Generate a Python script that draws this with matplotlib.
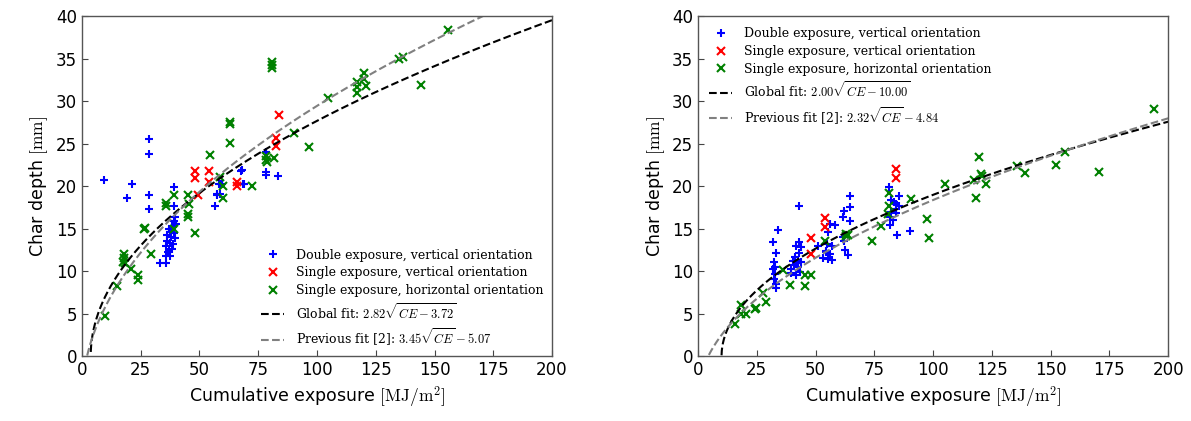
import numpy as np
import matplotlib
matplotlib.use("Agg")
import matplotlib.pyplot as plt

plt.rcParams['font.family'] = ['DejaVu Sans']
plt.rcParams['mathtext.fontset'] = 'cm'

# ---------------- Left panel data ----------------
L_dbl_vert_ce = [9.5, 28.7, 28.7, 21.4, 19.1, 28.7, 28.7, 39.3, 39.3,
                 39.7, 39.0, 40.0, 38.5, 36.9, 37.5, 39.3, 36.2, 38.0, 39.5, 36.0,
                 37.6, 38.8, 35.9, 37.0, 38.3, 35.9, 37.6, 36.5, 33.3, 35.9, 38.0,
                 56.7, 57.4, 58.6, 59.4, 58.4, 57.3, 58.7, 68.0, 68.6, 68.8,
                 78.4, 78.4, 78.4, 83.3, 67.5]
L_dbl_vert_d = [20.7, 25.5, 23.8, 20.2, 18.6, 19.0, 17.3, 19.9, 17.6,
                16.4, 15.9, 15.6, 15.3, 15.0, 14.6, 14.5, 14.3, 14.0, 13.9, 13.6,
                13.3, 13.2, 12.9, 12.5, 12.6, 11.8, 11.8, 12.2, 10.9, 10.9, 14.9,
                17.7, 18.9, 20.3, 20.3, 20.2, 19.1, 19.1, 21.9, 20.3, 20.3,
                24.0, 21.6, 21.3, 21.2, 21.8]

L_sgl_vert_ce = [47.9, 47.9, 53.9, 53.9, 49.2, 66.0, 66.0, 84.0, 82.4, 82.4]
L_sgl_vert_d = [21.8, 20.9, 21.8, 20.5, 19.0, 20.5, 20.0, 28.4, 25.6, 24.7]

L_sgl_hor_ce = [9.9, 14.8, 17.9, 17.9, 17.4, 18.4, 21.0, 23.8, 23.8,
                26.9, 26.5, 29.5, 35.9, 35.9, 39.0, 39.0, 45.0, 45.4, 45.0, 45.0,
                47.9, 54.3, 62.8, 62.8, 62.8, 58.7, 60.0, 60.0, 72.5,
                78.3, 78.3, 78.7, 81.7, 81.0, 81.0, 81.0, 90.4, 96.5,
                104.8, 116.9, 116.9, 116.9, 120.0, 120.0, 120.9,
                134.9, 136.5, 144.3, 155.9]
L_sgl_hor_d = [4.7, 8.3, 12.0, 11.5, 11.1, 10.9, 10.2, 9.6, 9.0,
               15.1, 14.9, 12.0, 18.0, 17.6, 18.9, 15.0, 18.9, 17.9, 16.7, 16.4,
               14.5, 23.6, 27.5, 27.3, 25.1, 21.1, 20.0, 18.6, 20.0,
               23.5, 23.1, 22.8, 23.3, 34.6, 34.2, 33.9, 26.3, 24.6,
               30.4, 32.2, 31.6, 30.9, 33.3, 32.6, 31.8,
               34.9, 35.2, 31.9, 38.4]

# ---------------- Right panel data ----------------
R_dbl_vert_ce = [42.8, 34.0, 32.1, 33.3, 32.3, 32.6, 31.7, 32.6, 32.3, 33.3, 33.3,
                 42.8, 41.8, 43.7, 42.8, 41.1, 42.5, 43.7, 40.8, 42.5, 39.7, 43.2,
                 41.8, 39.7, 42.0, 40.5,
                 51.0, 56.0, 58.1, 55.3, 57.0, 54.6, 56.0, 53.2, 55.3, 57.0, 54.6, 55.0,
                 62.1, 61.7, 64.5, 64.5, 64.5, 62.0, 62.4, 63.8, 61.6,
                 81.1, 82.3, 83.3, 84.4, 85.4, 85.4, 84.1, 82.3, 81.6, 83.0, 81.6, 84.4,
                 84.7, 90.1]
R_dbl_vert_d = [17.6, 14.8, 13.4, 12.1, 11.1, 10.5, 10.2, 9.7, 9.1, 8.5, 8.0,
                13.4, 12.9, 12.8, 12.1, 11.7, 11.3, 11.1, 10.7, 10.5, 10.3, 9.9,
                9.5, 9.8, 11.0, 11.2,
                12.9, 15.6, 15.4, 14.6, 13.0, 12.4, 12.0, 11.6, 11.4, 11.3, 12.2, 13.2,
                17.1, 16.4, 17.5, 18.8, 15.9, 13.6, 12.5, 11.9, 14.0,
                19.9, 18.4, 18.1, 17.9, 18.8, 17.7, 17.3, 16.9, 16.4, 16.0, 15.4, 16.8,
                14.3, 14.7]

R_sgl_vert_ce = [84.1, 84.1, 54.2, 54.2, 48.2, 48.2]
R_sgl_vert_d = [22.0, 20.9, 16.2, 15.2, 13.9, 12.0]

R_sgl_hor_ce = [15.9, 18.2, 18.4, 20.6, 24.1, 24.6, 27.7, 28.8, 36.2, 39.3,
                45.4, 45.4, 48.2, 54.2, 63.1, 63.1, 63.8, 74.0, 78.0, 81.3, 81.3,
                80.9, 90.8, 97.2, 98.3, 105.2, 118.2, 119.6, 117.4, 120.3, 120.9,
                122.4, 135.5, 139.0, 152.5, 156.3, 170.5, 193.9]
R_sgl_hor_d = [3.8, 6.0, 5.0, 4.9, 5.5, 5.7, 7.4, 6.4, 10.1, 8.4,
               9.5, 8.2, 9.6, 13.6, 14.1, 14.4, 14.2, 13.5, 15.3, 19.2, 17.7,
               16.7, 18.5, 16.1, 13.9, 20.2, 18.6, 23.4, 20.7, 21.4, 21.2,
               20.2, 22.4, 21.5, 22.5, 24.0, 21.7, 29.1]

# fit parameters (as printed in legends)
L_global = (2.82, 3.72)
L_prev = (3.45, 5.07)
R_global = (2.00, 10.00)
R_prev = (2.32, 4.84)

x_ticks = [0, 25, 50, 75, 100, 125, 150, 175, 200]
y_ticks = [0, 5, 10, 15, 20, 25, 30, 35, 40]

fig = plt.figure(figsize=(11.91, 4.21), dpi=100)
axL = fig.add_axes([0.0688, 0.154, 0.3947, 0.808])
axR = fig.add_axes([0.5861, 0.154, 0.3947, 0.808])

serif = 'DejaVu Serif'


def panel(ax, dce, dd, vce, vd, hce, hd, gfit, pfit, legloc, pad):
    ms = 6
    ax.plot(dce, dd, linestyle='none', marker='+', color='blue', ms=ms, mew=1.5,
            label='Double exposure, vertical orientation')
    ax.plot(vce, vd, linestyle='none', marker='x', color='red', ms=ms, mew=1.5,
            label='Single exposure, vertical orientation')
    ax.plot(hce, hd, linestyle='none', marker='x', color='green', ms=ms, mew=1.5,
            label='Single exposure, horizontal orientation')
    xs = np.linspace(0, 200, 4000)
    a, b = gfit
    m = xs >= b
    yg = a * np.sqrt(xs[m] - b)
    ax.plot(xs[m], yg, '--', color='black', lw=1.5,
            label=r'Global fit: $%.2f\sqrt{CE - %.2f}$' % (a, b))
    a2, c2 = pfit
    yp = a2 * np.sqrt(xs) - c2
    ax.plot(xs, yp, '--', color='gray', lw=1.5,
            label=r'Previous fit [2]: $%.2f\sqrt{CE} - %.2f$' % (a2, c2))
    ax.set_xlim(0, 200)
    ax.set_ylim(0, 40)
    ax.set_xticks(x_ticks)
    ax.set_yticks(y_ticks)
    ax.tick_params(direction='in', labelsize=12, length=4, color='#444444')
    for s in ax.spines.values():
        s.set_color('#555555')
        s.set_linewidth(1.0)
    ax.set_xlabel(r'Cumulative exposure $[\mathrm{MJ/m^2}]$', fontsize=12.5)
    ax.set_ylabel(r'Char depth $[\mathrm{mm}]$', fontsize=12.5)
    leg = ax.legend(loc=legloc, frameon=False, prop={'family': serif, 'size': 9},
                    handlelength=1.8, labelspacing=0.38, handletextpad=1.0,
                    borderaxespad=pad)
    return leg


panel(axL, L_dbl_vert_ce, L_dbl_vert_d, L_sgl_vert_ce, L_sgl_vert_d,
      L_sgl_hor_ce, L_sgl_hor_d, L_global, L_prev, 'lower right', 0.25)
panel(axR, R_dbl_vert_ce, R_dbl_vert_d, R_sgl_vert_ce, R_sgl_vert_d,
      R_sgl_hor_ce, R_sgl_hor_d, R_global, R_prev, 'upper left', 0.5)

fig.savefig('out.png', dpi=100)
